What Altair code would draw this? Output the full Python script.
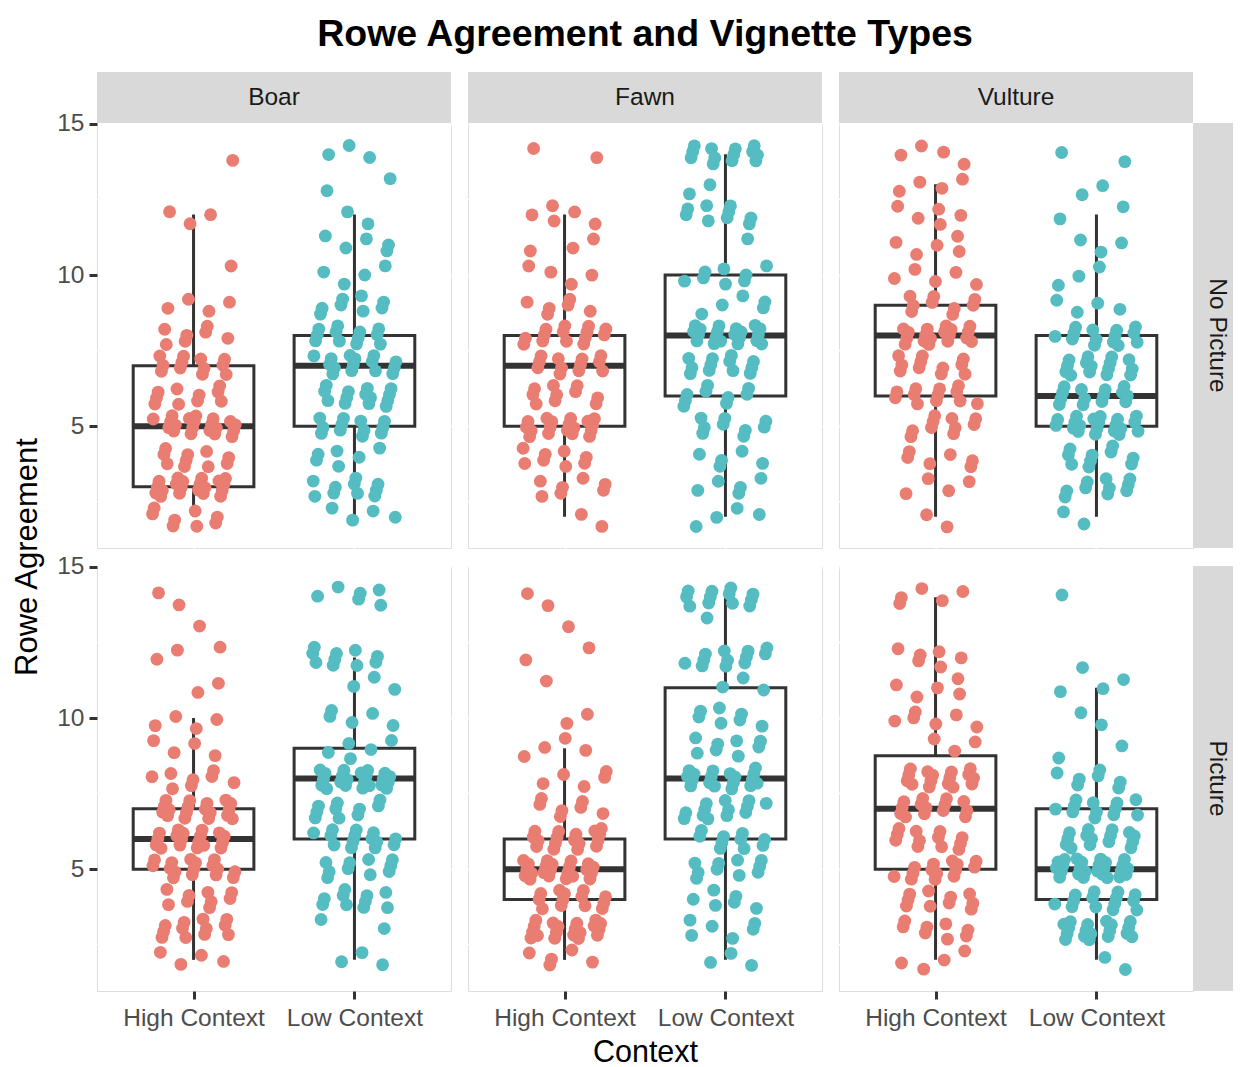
import altair as alt
import pandas as pd

FONT = "Liberation Sans"
RED = "#E97D72"
TEAL = "#55BCC2"

chart_title = "Rowe Agreement and Vignette Types"
x_title = "Context"
y_title = "Rowe Agreement"
pictures = ["No Picture", "Picture"]
vignettes = ["Boar", "Fawn", "Vulture"]
contexts = ["High Context", "Low Context"]
ratings = [2, 3, 4, 5, 6, 7, 8, 9, 10, 11, 12, 13, 14]
y_ticks = [5, 10, 15]
y_minor = [2.5, 7.5, 12.5]

# number of respondents at each rating 2..14 (read from the jittered clouds)
np_boar_high = [8, 20, 10, 20, 10, 12, 7, 4, 1, 0, 3, 0, 1]
np_boar_low = [4, 10, 6, 12, 14, 15, 12, 8, 4, 5, 2, 2, 3]
np_fawn_high = [2, 7, 8, 18, 10, 12, 14, 6, 4, 3, 5, 0, 2]
np_fawn_low = [4, 5, 5, 9, 9, 12, 20, 5, 8, 1, 9, 2, 13]
np_vulture_high = [2, 4, 6, 10, 12, 11, 18, 9, 5, 5, 5, 4, 4]
np_vulture_low = [2, 10, 10, 20, 14, 15, 14, 4, 3, 3, 2, 2, 2]
p_boar_high = [4, 12, 9, 16, 18, 18, 8, 4, 4, 2, 3, 1, 2]
p_boar_low = [3, 2, 10, 10, 14, 10, 22, 5, 5, 3, 10, 0, 6]
p_fawn_high = [5, 19, 13, 22, 17, 7, 5, 4, 2, 1, 2, 1, 2]
p_fawn_low = [3, 6, 6, 10, 10, 13, 18, 8, 7, 3, 12, 1, 12]
p_vulture_high = [4, 8, 10, 14, 12, 14, 16, 3, 6, 5, 6, 0, 5]
p_vulture_low = [2, 18, 14, 25, 15, 12, 7, 2, 2, 3, 1, 0, 1]

counts = {
    ("No Picture", "Boar", "High Context"): np_boar_high,
    ("No Picture", "Boar", "Low Context"): np_boar_low,
    ("No Picture", "Fawn", "High Context"): np_fawn_high,
    ("No Picture", "Fawn", "Low Context"): np_fawn_low,
    ("No Picture", "Vulture", "High Context"): np_vulture_high,
    ("No Picture", "Vulture", "Low Context"): np_vulture_low,
    ("Picture", "Boar", "High Context"): p_boar_high,
    ("Picture", "Boar", "Low Context"): p_boar_low,
    ("Picture", "Fawn", "High Context"): p_fawn_high,
    ("Picture", "Fawn", "Low Context"): p_fawn_low,
    ("Picture", "Vulture", "High Context"): p_vulture_high,
    ("Picture", "Vulture", "Low Context"): p_vulture_low,
}

# box statistics, order: NP Boar H/L, NP Fawn H/L, NP Vulture H/L, P Boar H/L, P Fawn H/L, P Vulture H/L
box_lo = [2, 2, 2, 2, 2, 2, 2, 2, 2, 2, 2, 2]
box_q1 = [3, 5, 5, 6, 6, 5, 5, 6, 4, 6, 5, 4]
box_med = [5, 7, 7, 8, 8, 6, 6, 8, 5, 8, 7, 5]
box_q3 = [7, 8, 8, 10, 9, 8, 7, 9, 6, 11, 8.75, 7]
box_hi = [12, 12, 12, 14, 13, 12, 10, 12, 9, 14, 14, 11]

JX, JY = 0.26, 0.35

pt_rows = []
j = 0
for pic in pictures:
    for vig in vignettes:
        for ci, ctx in enumerate(contexts):
            for r, c in zip(ratings, counts[(pic, vig, ctx)]):
                for _ in range(c):
                    j += 1
                    u = (j * 0.7548776662 + 0.5) % 1.0
                    w = (j * 0.5698402910 + 0.5) % 1.0
                    pt_rows.append(dict(picture=pic, vignette=vig, context=ctx,
                                        x=ci + 1 + (u - 0.5) * 2 * JX,
                                        y=r + (w - 0.5) * 2 * JY))
points = pd.DataFrame(pt_rows)

bx_rows = []
k = 0
for pic in pictures:
    for vig in vignettes:
        for ci, ctx in enumerate(contexts):
            bx_rows.append(dict(picture=pic, vignette=vig, context=ctx, pos=ci + 1,
                                lo=box_lo[k], q1=box_q1[k], med=box_med[k],
                                q3=box_q3[k], hi=box_hi[k]))
            k += 1
boxes = pd.DataFrame(bx_rows)

W, H = 354, 425
STRIP = 51
RSTRIP = 40
xscale = alt.Scale(domain=[0.4, 2.6], nice=False, zero=False)
yscale = alt.Scale(domain=[0.97, 15.03], nice=False, zero=False)
label_expr = f"datum.value == 1 ? '{contexts[0]}' : '{contexts[1]}'"


def panel(pi, vi):
    pic, vig = pictures[pi], vignettes[vi]
    left = vi == 0
    bottom = pi == len(pictures) - 1
    pts = points[(points.picture == pic) & (points.vignette == vig)]
    bx = boxes[(boxes.picture == pic) & (boxes.vignette == vig)]

    xaxis = alt.Axis(values=[1, 2], labelExpr=label_expr, grid=True, gridColor="white",
                     gridWidth=3, domain=False, ticks=bottom, labels=bottom,
                     tickColor="#333333", tickSize=8, tickWidth=3,
                     labelFontSize=24.5, labelColor="#4D4D4D", labelFont=FONT, labelPadding=7,
                     title=x_title if (bottom and vi == 1) else None,
                     titleFontSize=30.5, titleFontWeight="normal", titleColor="black",
                     titleFont=FONT, titlePadding=8)
    yaxis = alt.Axis(values=y_ticks, grid=True, gridColor="white", gridWidth=3, domain=False,
                     ticks=left, labels=left, tickColor="#333333", tickSize=8, tickWidth=3,
                     labelFontSize=24.5, labelColor="#4D4D4D", labelFont=FONT, labelPadding=5,
                     title=None)

    def X(f):
        return alt.X(f, scale=xscale, axis=xaxis)

    def Y(f):
        return alt.Y(f, scale=yscale, axis=yaxis)

    minor = alt.Chart(pd.DataFrame({"v": y_minor})).mark_rule(
        color="white", strokeWidth=1.5).encode(y=Y("v:Q"))
    whisk = alt.Chart(bx).mark_rule(color="#333333", strokeWidth=3).encode(
        x=X("pos:Q"), y=Y("lo:Q"), y2="hi:Q")
    box = alt.Chart(bx).transform_calculate(
        xa="datum.pos - 0.375", xb="datum.pos + 0.375"
    ).mark_rect(fill="white", stroke="#333333", strokeWidth=3).encode(
        x=X("xa:Q"), x2="xb:Q", y=Y("q1:Q"), y2="q3:Q")
    med = alt.Chart(bx).transform_calculate(
        xa="datum.pos - 0.375", xb="datum.pos + 0.375"
    ).mark_rule(color="#333333", strokeWidth=6).encode(
        x=X("xa:Q"), x2="xb:Q", y=Y("med:Q"))
    dots = alt.Chart(pts).mark_circle(size=165, opacity=1).encode(
        x=X("x:Q"), y=Y("y:Q"),
        color=alt.Color("context:N", scale=alt.Scale(domain=contexts, range=[RED, TEAL]),
                        legend=None))
    layers = [minor, whisk, box, med, dots]

    if pi == 0:
        sd = pd.DataFrame({"label": [vig]})
        layers.append(alt.Chart(sd).mark_rect(fill="#D9D9D9").encode(
            x=alt.value(0), x2=alt.value(W), y=alt.value(-STRIP), y2=alt.value(0)))
        layers.append(alt.Chart(sd).mark_text(fontSize=24.5, color="#1A1A1A", font=FONT).encode(
            x=alt.value(W / 2), y=alt.value(-STRIP / 2), text="label:N"))
        if vi == 1:
            tt = pd.DataFrame({"t": [chart_title]})
            layers.append(alt.Chart(tt).mark_text(fontSize=37.5, fontWeight="bold", color="black",
                                                  font=FONT).encode(
                x=alt.value(W / 2), y=alt.value(-88), text="t:N"))
    if vi == len(vignettes) - 1:
        rd = pd.DataFrame({"label": [pic]})
        layers.append(alt.Chart(rd).mark_rect(fill="#D9D9D9").encode(
            x=alt.value(W), x2=alt.value(W + RSTRIP), y=alt.value(0), y2=alt.value(H)))
        layers.append(alt.Chart(rd).mark_text(fontSize=24.5, color="#1A1A1A", font=FONT,
                                              angle=90).encode(
            x=alt.value(W + 24), y=alt.value(H / 2), text="label:N"))
    if left and bottom:
        td = pd.DataFrame({"t": [y_title]})
        layers.append(alt.Chart(td).mark_text(fontSize=31, color="black", font=FONT,
                                              angle=270).encode(
            x=alt.value(-69), y=alt.value(-9), text="t:N"))
    return alt.layer(*layers).properties(width=W, height=H)


panels = [panel(pi, vi) for pi in range(len(pictures)) for vi in range(len(vignettes))]

chart = alt.concat(*panels, columns=3, spacing={"row": 18, "column": 17},
                   bounds="flush").properties(
    padding={"left": 3, "top": 7, "right": 0, "bottom": 3},
).configure_view(fill="#EBEBEB", stroke="transparent", strokeWidth=0).configure(
    font=FONT, background="white")

chart.save("out.html", embed_options={"renderer": "svg", "actions": False})
